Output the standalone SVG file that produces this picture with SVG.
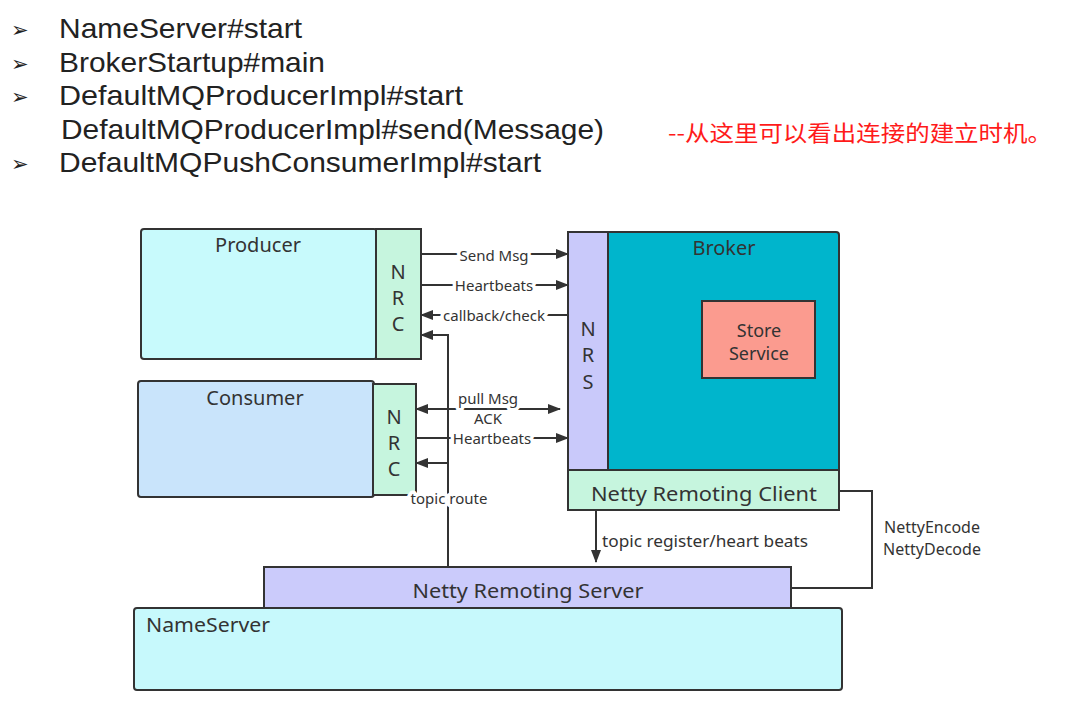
<svg xmlns="http://www.w3.org/2000/svg" width="1073" height="708" viewBox="0 0 1073 708">
<style>
.box{stroke:#333;stroke-width:2}
.t{font-family:"Noto Sans","Liberation Sans",sans-serif;fill:#333}
.head{font-family:"Liberation Sans","Noto Sans",sans-serif;fill:#222;font-size:28px}
.bul{font-family:"DejaVu Sans",sans-serif;fill:#222;font-size:21px}
.lbl{font-family:"Noto Sans","Liberation Sans",sans-serif;fill:#333;font-size:15px;paint-order:stroke;stroke:#fff;stroke-width:7px;stroke-linejoin:round}
.con{fill:none;stroke:#333;stroke-width:2}
.mid{text-anchor:middle}
</style>
<defs>
<marker id="arr" viewBox="0 0 13 10" refX="12" refY="5" markerWidth="13" markerHeight="10" markerUnits="userSpaceOnUse" orient="auto-start-reverse">
<path d="M0,0 L13,5 L0,10 Z" fill="#333"/>
</marker>
</defs>
<rect width="1073" height="708" fill="#fff"/>

<g id="heading">
<text class="bul" x="11" y="37">➢</text>
<text class="bul" x="11" y="71">➢</text>
<text class="bul" x="11" y="104">➢</text>
<text class="bul" x="11" y="171">➢</text>
<text class="head" x="59" y="38" textLength="243" lengthAdjust="spacingAndGlyphs">NameServer#start</text>
<text class="head" x="59" y="72" textLength="266" lengthAdjust="spacingAndGlyphs">BrokerStartup#main</text>
<text class="head" x="59" y="105" textLength="404" lengthAdjust="spacingAndGlyphs">DefaultMQProducerImpl#start</text>
<text class="head" x="61" y="139" textLength="543" lengthAdjust="spacingAndGlyphs">DefaultMQProducerImpl#send(Message)</text>
<text class="head" x="59" y="172" textLength="482" lengthAdjust="spacingAndGlyphs">DefaultMQPushConsumerImpl#start</text>
<text x="668" y="141" font-family="'Noto Sans CJK SC','Noto Sans',sans-serif" font-size="22" fill="#ff1a1a" textLength="384" lengthAdjust="spacingAndGlyphs">--从这里可以看出连接的建立时机。</text>
</g>

<g id="producer">
<rect class="box" x="141" y="229" width="236" height="130" rx="3" fill="#c8fafc"/>
<text class="t mid" x="258" y="252" font-size="20">Producer</text>
</g>
<g id="producer-nrc">
<rect class="box" x="376" y="229" width="45" height="130" fill="#c6f5de"/>
<text class="t mid" x="398" y="279" font-size="20">N</text>
<text class="t mid" x="398" y="305" font-size="20">R</text>
<text class="t mid" x="398" y="331" font-size="20">C</text>
</g>

<g id="consumer">
<rect class="box" x="138" y="381" width="236" height="116" rx="3" fill="#c9e4fb"/>
<text class="t mid" x="255" y="405" font-size="20">Consumer</text>
</g>
<g id="consumer-nrc">
<rect class="box" x="373" y="384" width="43" height="111" fill="#c6f5de"/>
<text class="t mid" x="394" y="424" font-size="20">N</text>
<text class="t mid" x="394" y="450" font-size="20">R</text>
<text class="t mid" x="394" y="476" font-size="20">C</text>
</g>

<g id="broker">
<path class="box" d="M608,232 H836 Q839,232 839,235 V470 H608 Z" fill="#00b5cc"/>
<text class="t mid" x="724" y="255" font-size="20">Broker</text>
</g>
<g id="store-service">
<rect class="box" x="702" y="301" width="113" height="77" fill="#fb9b8f"/>
<text class="t mid" x="759" y="337" font-size="18">Store</text>
<text class="t mid" x="759" y="360" font-size="18">Service</text>
</g>
<g id="broker-nrs">
<rect class="box" x="568" y="232" width="40" height="238" fill="#c9c9fa"/>
<text class="t mid" x="588" y="336" font-size="20">N</text>
<text class="t mid" x="588" y="362" font-size="20">R</text>
<text class="t mid" x="588" y="389" font-size="20">S</text>
</g>
<g id="netty-remoting-client">
<rect class="box" x="568" y="470" width="271" height="40" fill="#c6f5de"/>
<text class="t mid" x="704" y="501" font-size="20" textLength="226" lengthAdjust="spacingAndGlyphs">Netty Remoting Client</text>
</g>

<g id="netty-remoting-server">
<rect class="box" x="264" y="567" width="527" height="41" fill="#cbcbfb"/>
<text class="t mid" x="528" y="598" font-size="20" textLength="231" lengthAdjust="spacingAndGlyphs">Netty Remoting Server</text>
</g>
<g id="nameserver">
<rect class="box" x="134" y="608" width="708" height="82" rx="3" fill="#c7f9fc"/>
<text class="t" x="146" y="632" font-size="19" textLength="124" lengthAdjust="spacingAndGlyphs">NameServer</text>
</g>

<g id="connectors">
<path class="con" d="M448,567 V335 H421" marker-end="url(#arr)"/>
<path class="con" d="M421,254 H568" marker-end="url(#arr)"/>
<path class="con" d="M421,285 H568" marker-end="url(#arr)"/>
<path class="con" d="M568,315 H421" marker-end="url(#arr)"/>
<path class="con" d="M416,409 H560" marker-start="url(#arr)" marker-end="url(#arr)"/>
<path class="con" d="M416,438 H568" marker-end="url(#arr)"/>
<path class="con" d="M448,463 H416" marker-end="url(#arr)"/>
<path class="con" d="M596,510 V562" marker-end="url(#arr)"/>
<path class="con" d="M839,491 H872 V588 H791"/>
<text class="lbl mid" x="494" y="261">Send Msg</text>
<text class="lbl mid" x="494" y="291">Heartbeats</text>
<text class="lbl mid" x="494" y="321">callback/check</text>
<text class="lbl mid" x="488" y="404" font-size="14">pull Msg</text>
<text class="lbl mid" x="488" y="424" font-size="14">ACK</text>
<text class="lbl mid" x="492" y="444">Heartbeats</text>
<text class="lbl mid" x="449" y="504" font-size="12">topic route</text>
<text class="t" x="602" y="547" font-size="16" textLength="206" lengthAdjust="spacingAndGlyphs">topic register/heart beats</text>
<text class="t mid" x="932" y="533" font-size="16">NettyEncode</text>
<text class="t mid" x="932" y="555" font-size="16">NettyDecode</text>
</g>
</svg>
